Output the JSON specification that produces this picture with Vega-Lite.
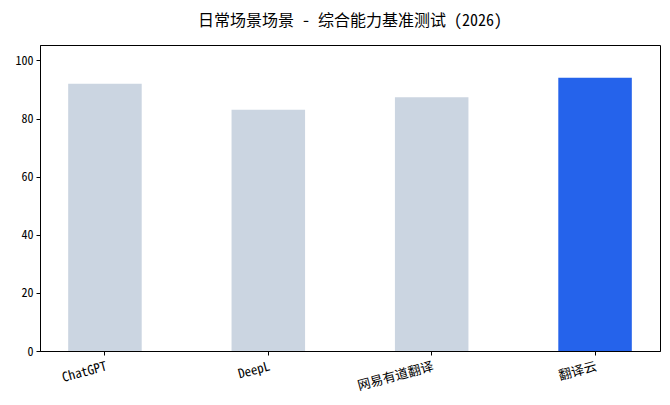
{
  "$schema": "https://vega.github.io/schema/vega-lite/v6.json",
  "width": 620,
  "height": 306,
  "autosize": {"type": "none"},
  "padding": {"left": 40, "top": 45, "right": 10, "bottom": 54},
  "title": {
    "text": "日常场景场景 - 综合能力基准测试 (2026)",
    "font": "Noto Sans Mono CJK SC, Noto Sans CJK SC",
    "fontSize": 16,
    "fontWeight": 500,
    "color": "#000000",
    "offset": 16
  },
  "config": {
    "view": {"stroke": "#000000", "strokeWidth": 1},
    "axis": {
      "domainColor": "#000000",
      "tickColor": "#000000",
      "labelColor": "#000000",
      "labelFont": "Noto Sans Mono CJK SC, Noto Sans CJK SC",
      "labelFontSize": 12,
      "tickSize": 4,
      "grid": false,
      "title": null
    }
  },
  "data": {
    "values": [
      {"tool": "ChatGPT", "score": 92, "highlight": "no"},
      {"tool": "DeepL", "score": 83, "highlight": "no"},
      {"tool": "网易有道翻译", "score": 87.3, "highlight": "no"},
      {"tool": "翻译云", "score": 94, "highlight": "yes"}
    ]
  },
  "mark": {"type": "bar"},
  "encoding": {
    "x": {
      "field": "tool",
      "type": "nominal",
      "sort": null,
      "scale": {"paddingInner": 0.55, "paddingOuter": 0.1725},
      "axis": {"labelAngle": -15, "labelAlign": "right", "labelBaseline": "top", "labelPadding": 5, "labelFontSize": 13}
    },
    "y": {
      "field": "score",
      "type": "quantitative",
      "scale": {"domain": [0, 105.3], "nice": false},
      "axis": {"values": [0, 20, 40, 60, 80, 100], "labelPadding": 3}
    },
    "color": {
      "field": "highlight",
      "type": "nominal",
      "scale": {"domain": ["no", "yes"], "range": ["#cbd5e1", "#2563eb"]},
      "legend": null
    }
  }
}
